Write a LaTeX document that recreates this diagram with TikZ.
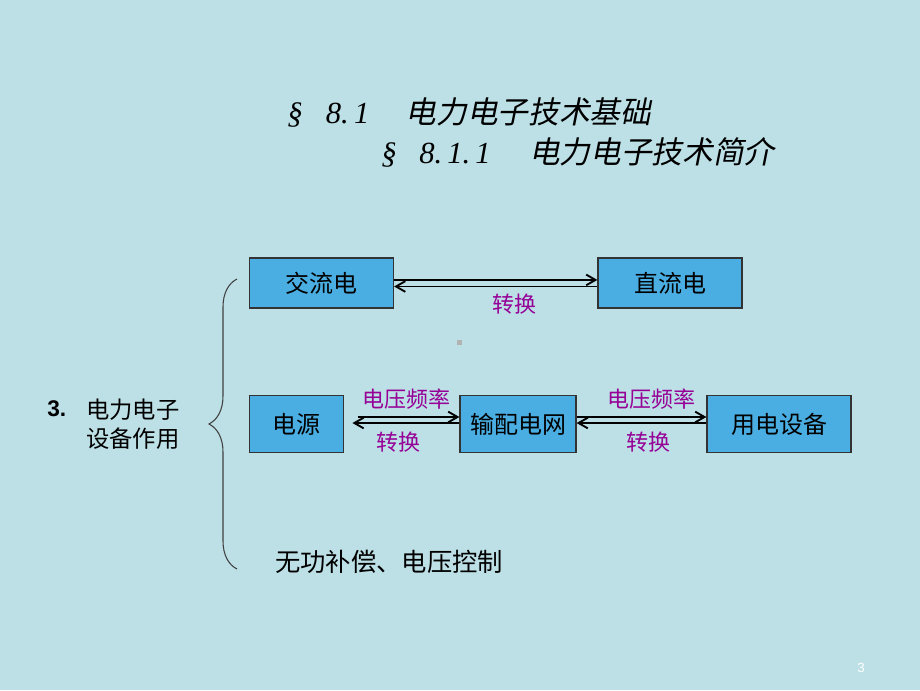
\documentclass[tikz,border=0pt]{standalone}
\usepackage{fontspec}
\setmainfont{Liberation Sans}
\newfontfamily\cjk{Noto Sans CJK SC}
\newfontfamily\cjkit[FakeSlant=0.2]{Noto Sans CJK SC}
\newfontfamily\titlefont{Liberation Serif}
\usetikzlibrary{arrows.meta,decorations.pathreplacing}
\definecolor{slidebg}{RGB}{188,224,230}
\definecolor{boxblue}{RGB}{74,174,226}
\definecolor{lblpurple}{RGB}{150,0,150}
\begin{document}
\begin{tikzpicture}[x=0.75pt,y=-0.75pt,
  blockbox/.style={draw=black!80, fill=boxblue, line width=0.9pt, minimum height=37.5pt, inner sep=2pt, font=\cjk\fontsize{18}{20}\selectfont},
  conv/.style={line width=1.4pt, -{Straight Barb[length=7pt,width=8pt]}},
  lbl/.style={text=lblpurple, inner sep=0pt, font=\cjk\fontsize{16.5}{18}\selectfont},
  heading/.style={anchor=west, inner sep=0pt, font=\titlefont\itshape\fontsize{23}{25}\selectfont}]
	\useasboundingbox (0,0) rectangle (920,690);
	\fill[slidebg] (0,0) rectangle (920,690);
	% title
	\node[heading] (T1) at (287,113) {\makebox[29pt][l]{\S}\makebox[60pt][l]{8.\,1}{\cjkit 电力电子技术基础}};
	\node[heading] (T2) at (381,152) {\makebox[28.5pt][l]{\S}\makebox[82.5pt][l]{8.\,1.\,1}{\cjkit 电力电子技术简介}};
	% boxes
	\node[blockbox, minimum width=108pt] (AC) at (321.5,283) {交流电};
	\node[blockbox, minimum width=108pt] (DC) at (670,283) {直流电};
	\node[blockbox, minimum width=71pt, minimum height=43pt] (SRC) at (296.5,424) {电源};
	\node[blockbox, minimum width=87pt, minimum height=43pt] (GRID) at (518,424) {输配电网};
	\node[blockbox, minimum width=108pt, minimum height=43pt] (LOAD) at (779,424) {用电设备};
	% conversions
	\draw[conv] ([yshift=2.3pt]AC.east) -- ([yshift=2.3pt]DC.west);
	\draw[conv] ([yshift=-2.6pt]DC.west) -- ([yshift=-2.6pt]AC.east);
	\node[lbl] (L1) at (514,304) {转换};
	\draw[conv] ([yshift=5.25pt,xshift=10pt]SRC.east) coordinate (s1) -- (s1 -| GRID.west);
	\draw[conv] ([yshift=0.75pt]GRID.west) -- ([yshift=0.75pt,xshift=6pt]SRC.east);
	\node[lbl] (L2) at (406,399) {电压频率};
	\node[lbl] (L3) at (398,442) {转换};
	\draw[conv] ([yshift=5.25pt]GRID.east) -- ([yshift=5.25pt]LOAD.west);
	\draw[conv] ([yshift=0.75pt]LOAD.west) -- ([yshift=0.75pt]GRID.east);
	\node[lbl] (L4) at (651,399) {电压频率};
	\node[lbl] (L5) at (648,442) {转换};
	% left side
	\node[anchor=west, inner sep=0pt] (N3) at (47,409) {\fontsize{17}{19}\selectfont\bfseries 3.};
	\node[anchor=west, inner sep=0pt, align=left, font=\cjk\fontsize{17.5}{22}\selectfont] (ROLE) at (86,424) {电力电子\\设备作用};
	\draw[line width=0.8pt, black!75, decoration={brace, amplitude=21pt}, decorate] (237,569) -- (237,279);
	\node[anchor=west, inner sep=0pt] (COMP) at (275,562) {\cjk\fontsize{19}{21}\selectfont 无功补偿、电压控制};
	% small mark and page number
	\fill[gray!60] (456.5,339.5) rectangle (461.5,344.5);
	\node[text=white, inner sep=0pt] (PG) at (861,668) {\fontsize{10}{12}\selectfont 3};
\end{tikzpicture}
\end{document}
